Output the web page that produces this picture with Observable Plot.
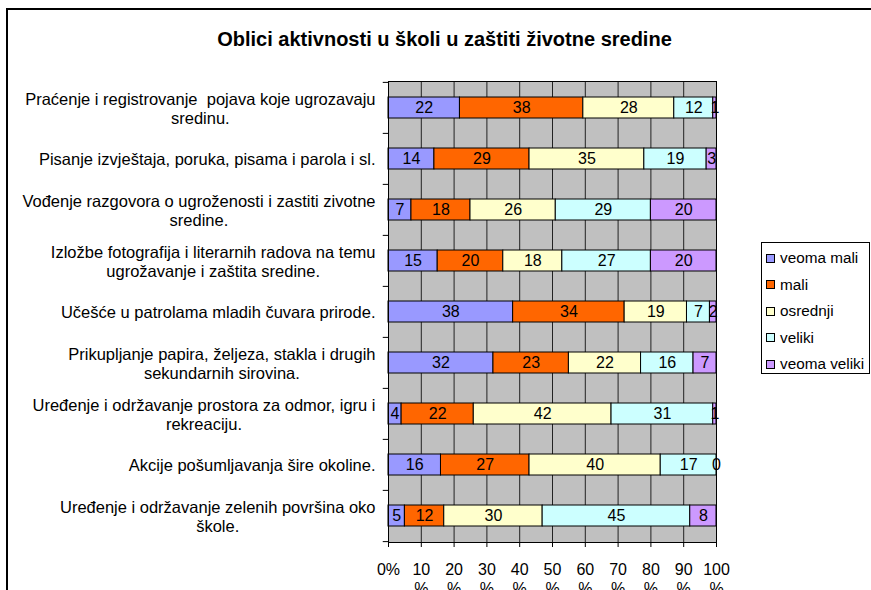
<!DOCTYPE html>
<html><head><meta charset="utf-8">
<script src="https://cdn.jsdelivr.net/npm/d3@7"></script>
<script src="https://cdn.jsdelivr.net/npm/@observablehq/plot@0.6"></script>
<style>
html,body{margin:0;padding:0;background:#fff;overflow:hidden}
#wrap{position:relative;width:871px;height:590px;overflow:hidden;font-family:"Liberation Sans",Arial,sans-serif;color:#000}
#border{position:absolute;left:6px;top:8px;width:900px;height:700px;border:2px solid #000;box-sizing:border-box}
#title{position:absolute;left:0;top:29px;width:889px;text-align:center;font-weight:bold;font-size:20px;line-height:1}
#chart{position:absolute;left:0;top:0}
#legend{position:absolute;left:761px;top:242px;width:109px;height:132px;border:1px solid #000;box-sizing:border-box;background:#fff}
.li{position:absolute;left:0;height:20px;display:flex;align-items:center;font-size:15.3px;white-space:nowrap}
.sw{width:7px;height:7px;border:1px solid #000;margin-left:4px;margin-right:5px}
</style></head>
<body>
<div id="wrap">
  <div id="border"></div>
  <div id="title"></div>
  <div id="chart"></div>
  <div id="legend"></div>
</div>
<script>
const title = "Oblici aktivnosti u školi u zaštiti životne sredine";
const categories = [
  "Praćenje i registrovanje  pojava koje ugrozavaju\nsredinu.",
  "Pisanje izvještaja, poruka, pisama i parola i sl.",
  "Vođenje razgovora o ugroženosti i zastiti zivotne\nsredine.",
  "Izložbe fotografija i literarnih radova na temu\nugrožavanje i zaštita sredine.",
  "Učešće u patrolama mladih čuvara prirode.",
  "Prikupljanje papira, željeza, stakla i drugih\nsekundarnih sirovina.",
  "Uređenje i održavanje prostora za odmor, igru i\nrekreaciju.",
  "Akcije pošumljavanja šire okoline.",
  "Uređenje i održavanje zelenih površina oko\nškole."
];
const series = ["veoma mali", "mali", "osrednji", "veliki", "veoma veliki"];
const colors = ["#9999ff", "#ff6600", "#ffffcc", "#ccffff", "#cc99ff"];
const veomaMali   = [22, 14, 7, 15, 38, 32, 4, 16, 5];
const mali        = [38, 29, 18, 20, 34, 23, 22, 27, 12];
const osrednji    = [28, 35, 26, 18, 19, 22, 42, 40, 30];
const veliki      = [12, 19, 29, 27, 7, 16, 31, 17, 45];
const veomaVeliki = [1, 3, 20, 20, 2, 7, 1, 0, 8];
const xTicks = [0, 10, 20, 30, 40, 50, 60, 70, 80, 90, 100];

const seriesValues = [veomaMali, mali, osrednji, veliki, veomaVeliki];
const rows = [];
categories.forEach((c, i) => {
  series.forEach((s, j) => rows.push({category: c, series: s, value: seriesValues[j][i]}));
});

document.getElementById("title").textContent = title;

const W = 871, H = 590, mt = 81, mb = 48, ml = 388, mr = 155;
const bw = (H - mt - mb) / categories.length;

const chart = Plot.plot({
  width: W, height: H,
  marginLeft: ml, marginRight: mr, marginTop: mt, marginBottom: mb,
  style: {fontFamily: "'Liberation Sans', Arial, sans-serif", fontSize: "16px", background: "transparent", color: "#000"},
  x: {domain: [0, 1]},
  y: {domain: categories, padding: 0},
  color: {domain: series, range: colors},
  marks: [
    Plot.frame({fill: "#c0c0c0"}),
    Plot.ruleX(xTicks.map(t => t / 100), {stroke: "#222", strokeWidth: 1}),
    Plot.barX(rows, Plot.stackX({offset: "normalize", x: "value", y: "category", fill: "series",
      stroke: "#000", strokeWidth: 1, insetTop: 15, insetBottom: 15})),
    Plot.text(rows, Plot.stackX({offset: "normalize", x: "value", y: "category", z: "series",
      text: d => String(d.value), fill: "#000", fontSize: 16})),
    Plot.frame({stroke: "#000"}),
    Plot.ruleY(categories, {y: d => d, x1: -0.016, x2: 0, dy: -bw / 2, stroke: "#000"}),
    Plot.ruleY(categories.slice(-1), {y: d => d, x1: -0.016, x2: 0, dy: bw / 2, stroke: "#000"}),
    Plot.axisY({tickSize: 0, tickPadding: 13, fontSize: 16.5, lineHeight: 1.18, label: null}),
    Plot.axisX({ticks: xTicks.map(t => t / 100), tickSize: 5, tickPadding: 14, fontSize: 16, lineHeight: 1.2, label: null,
      tickFormat: d => { const t = Math.round(d * 100); return t === 0 ? "0%" : `${t}\n%`; }})
  ]
});
document.getElementById("chart").appendChild(chart);

// center wrapped category label lines within their block
chart.querySelectorAll('g[aria-label="y-axis tick label"] text').forEach(t => {
  const sp = t.querySelectorAll("tspan");
  if (sp.length > 1) {
    let w = 0;
    sp.forEach(s => { w = Math.max(w, s.getComputedTextLength()); });
    t.setAttribute("text-anchor", "middle");
    sp.forEach(s => s.setAttribute("x", -w / 2));
  }
});

const legend = document.getElementById("legend");
series.forEach((s, i) => {
  const item = document.createElement("div");
  item.className = "li";
  item.style.top = (5 + i * 26.5) + "px";
  const sw = document.createElement("div");
  sw.className = "sw";
  sw.style.background = colors[i];
  const tx = document.createElement("span");
  tx.textContent = s;
  item.appendChild(sw); item.appendChild(tx);
  legend.appendChild(item);
});
</script>
</body></html>
